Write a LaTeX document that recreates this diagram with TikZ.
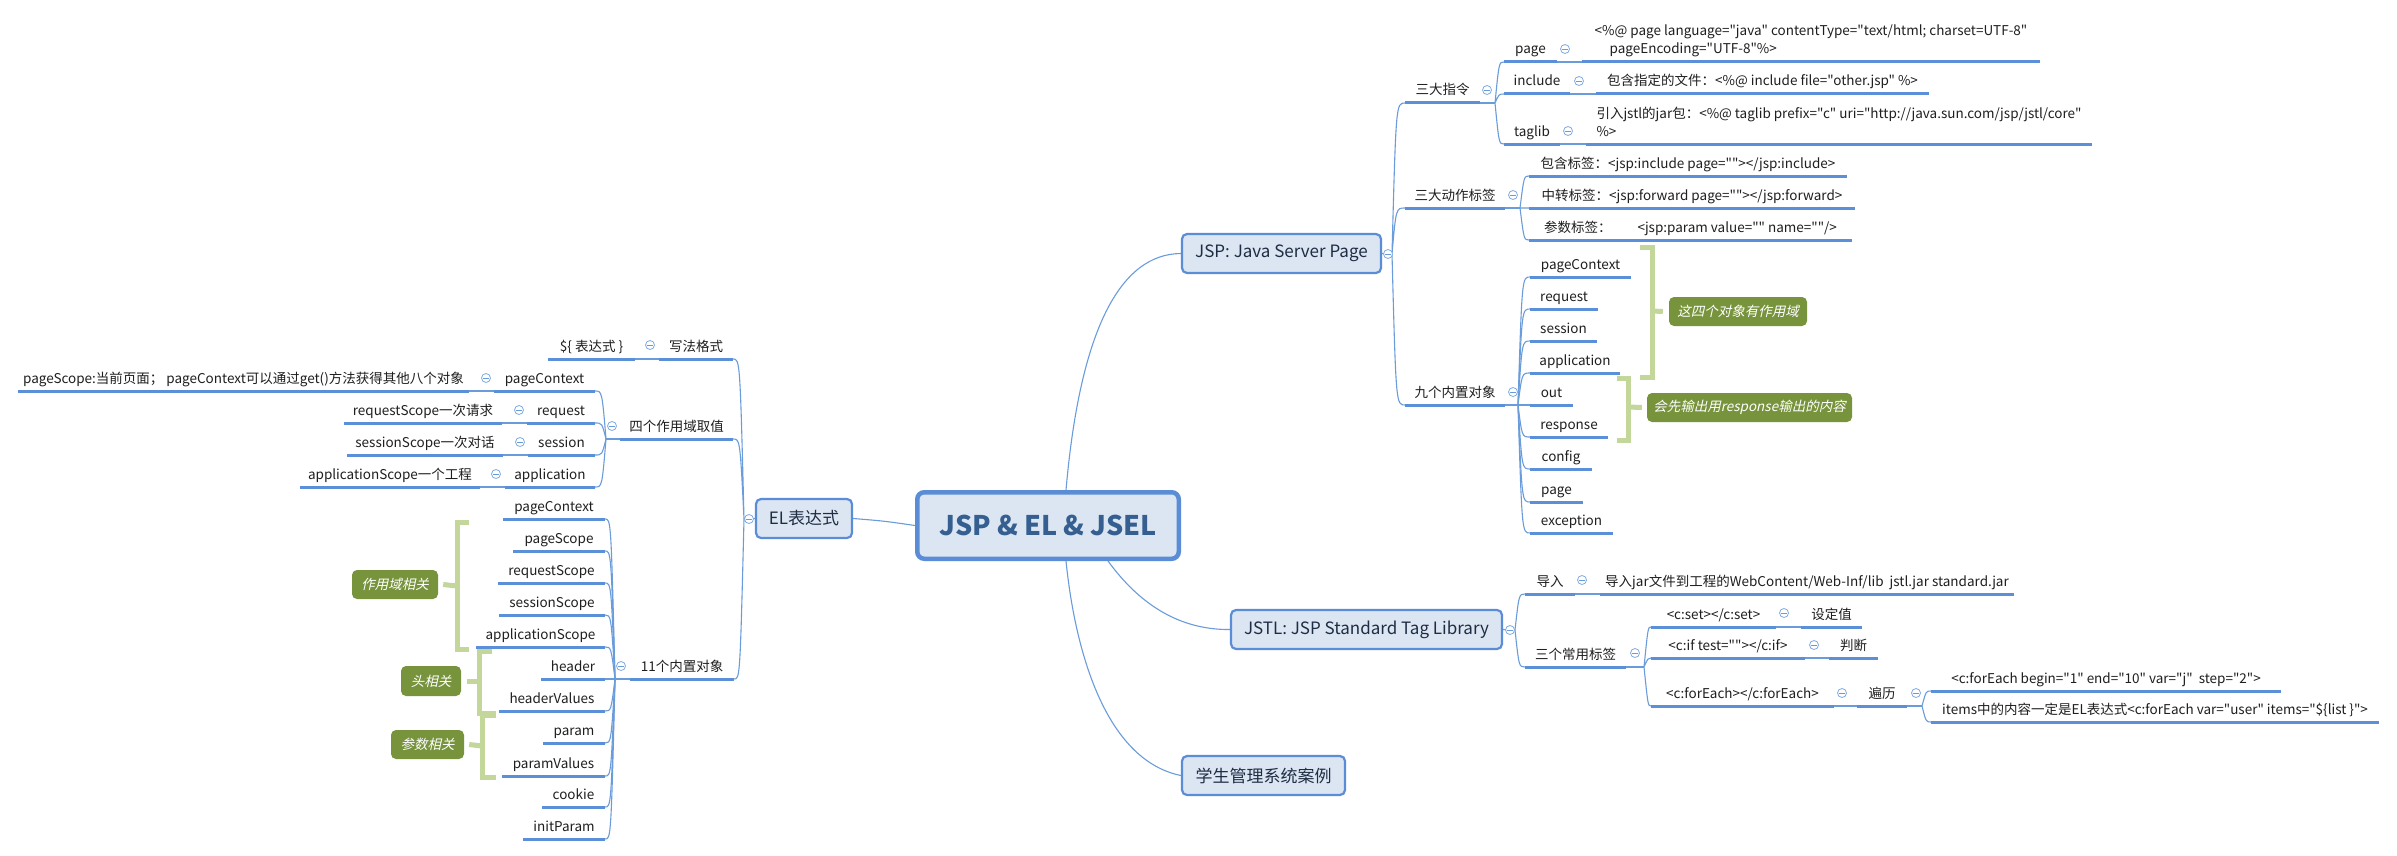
\documentclass[tikz,border=0pt]{standalone}
\usepackage{fontspec}
\setmainfont{Noto Sans CJK SC}[Ligatures=TeXOff]
\newfontfamily\itfont[FakeSlant=0.22]{Noto Sans CJK SC}
\usetikzlibrary{calc}
\pgfdeclarelayer{bg}
\pgfsetlayers{bg,main}
\definecolor{ul}{HTML}{5B8FD8}
\definecolor{cn}{HTML}{6A9CDB}
\definecolor{nodefill}{HTML}{DCE6F2}
\definecolor{nodeborder}{HTML}{5A8DD6}
\definecolor{brk}{HTML}{C4D79B}
\definecolor{lab}{HTML}{77933C}
\definecolor{rootTxt}{HTML}{365F91}
\definecolor{lonetxt}{HTML}{1F2D44}
\newcommand\st{\rule[-3.5pt]{0pt}{10.5pt}}
\newcommand\tpR[5][]{\node[topic,anchor=south west,minimum width=#4,#1] (#2) at (#3) {#5};\draw[uline] (#2.south west) -- (#2.south east);}
\newcommand\tpL[5][]{\node[topic,anchor=south east,minimum width=#4,#1] (#2) at (#3) {#5};\draw[uline] (#2.south west) -- (#2.south east);}
\tikzset{
 topic/.style={inner xsep=0pt, inner ysep=4.5pt, outer sep=0pt, minimum height=0pt, font=\fontsize{13.5}{18}\selectfont, text=black!88, execute at begin node=\st, execute at end node=\st},
 uline/.style={draw=ul, line width=3pt},
 conn/.style={draw=cn, line width=1.1pt},
 brR/.style={to path={.. controls ([xshift=4pt]\tikztostart |- \tikztotarget) .. (\tikztotarget)}},
 brL/.style={to path={.. controls ([xshift=-4pt]\tikztostart |- \tikztotarget) .. (\tikztotarget)}},
 clp/.style={circle, draw=cn!85, line width=0.8pt, fill=white, minimum size=9pt, inner sep=0pt, outer sep=0pt,
   path picture={\draw[cn, line width=0.8pt] ([xshift=-2.6pt]path picture bounding box.center) -- ([xshift=2.6pt]path picture bounding box.center);}},
 lvone/.style={draw=nodeborder, line width=2.2pt, fill=nodefill, rounded corners=5pt, inner sep=0pt, font=\fontsize{17}{20}\selectfont, text=lonetxt},
 rootnode/.style={draw=nodeborder, line width=4.5pt, fill=nodefill, rounded corners=7pt, inner sep=0pt, font=\fontsize{27}{30}\selectfont\bfseries, text=rootTxt},
 brkt/.style={draw=brk, line width=5pt},
 note/.style={fill=lab, rounded corners=5pt, inner sep=0pt, text=white, font=\fontsize{13.5}{16}\selectfont\itfont},
}
\begin{document}
\begin{tikzpicture}[x=1pt,y=-1pt]
\useasboundingbox (0,0) rectangle (2397,856);
% ---------- main nodes
\node[rootnode, minimum width=261.5, minimum height=66.5] (root) at (1048,525.5) {JSP \& EL \& JSEL};
\node[lvone, minimum width=96, minimum height=39] (el) at (804,518.5) {EL表达式};
\node[lvone, minimum width=199, minimum height=39] (jsp) at (1281.5,253.5) {JSP: Java Server Page};
\node[lvone, minimum width=271, minimum height=39] (jstl) at (1366.5,629.5) {JSTL: JSP Standard Tag Library};
\node[lvone, minimum width=163, minimum height=39] (case) at (1263.5,775.5) {学生管理系统案例};

% ---------- JSP branch
\tpR{zd}{1405,103}{75}{三大指令}
\tpR{dz}{1405,208}{100}{三大动作标签}
\tpR{nz}{1405,405}{100}{九个内置对象}
\tpR{pg}{1504,62}{53}{page}
\tpR{inc}{1504,94}{66}{include}
\tpR{tl}{1504,144}{56}{taglib}
\tpR{pgc}{1582,62}{458}{\vbox{\baselineskip=18pt\hbox{<\%@ page language="java" contentType="text/html; charset=UTF-8"\st}\hbox{\hspace*{15pt}pageEncoding="UTF-8"\%>\st}}}
\tpR{incc}{1596,94}{333}{包含指定的文件：<\%@ include file="other.jsp" \%>}
\tpR{tlc}{1586,144}{506}{\vbox{\baselineskip=18pt\hbox{引入jstl的jar包：<\%@ taglib prefix="c" uri="http://java.sun.com/jsp/jstl/core"\st}\hbox{\%>\st}}}
\tpR{dza}{1529,176}{318}{包含标签：<jsp:include page=""></jsp:include>}
\tpR{dzb}{1529,208}{326}{中转标签：<jsp:forward page=""></jsp:forward>}
\tpR{dzc}{1529,240}{323}{参数标签：\hspace{26pt}<jsp:param value="" name=""/>}
\tpR{na}{1530,277}{101}{pageContext}
\tpR{nb}{1530,309}{68}{request}
\tpR{nc}{1530,341}{67}{session}
\tpR{nd}{1530,373}{90}{application}
\tpR{ne}{1530,405}{43}{out}
\tpR{nf}{1530,437}{78}{response}
\tpR{ng}{1530,469}{62}{config}
\tpR{nh}{1530,502}{53}{page}
\tpR{ni}{1530,533}{83}{exception}

% ---------- EL branch
\tpL{xf}{733,359}{74}{写法格式}
\tpL{expr}{635,359}{87}{\$\{ 表达式 \}}
\tpL{sz}{733,439}{113}{四个作用域取值}
\tpL{pc}{595,391}{101}{pageContext}
\tpL{rq}{595,423}{68}{request}
\tpL{ss}{595,455}{67}{session}
\tpL{ap}{595,487}{90}{application}
\tpL{pcc}{469,391}{451}{pageScope:当前页面； pageContext可以通过get()方法获得其他八个对象}
\tpL{rqc}{502,423}{158}{requestScope一次请求}
\tpL{ssc}{503,455}{156}{sessionScope一次对话}
\tpL{apc}{480,487}{180}{applicationScope一个工程}
\tpL{sy}{734,679}{104}{11个内置对象}
\tpL{sa}{605,519}{102}{pageContext}
\tpL{sb}{605,551}{92}{pageScope}
\tpL{sc}{605,583}{107}{requestScope}
\tpL{sd}{605,615}{106}{sessionScope}
\tpL{se}{605,647}{129}{applicationScope}
\tpL{sf}{605,679}{64}{header}
\tpL{sg}{605,711}{106}{headerValues}
\tpL{sh}{605,743}{62}{param}
\tpL{si}{605,776}{103}{paramValues}
\tpL{sj}{605,807}{63}{cookie}
\tpL{sk}{605,839}{82}{initParam}

% ---------- JSTL branch
\tpR{dr}{1525,594}{50}{导入}
\tpR{drc}{1600,594}{414}{导入jar文件到工程的WebContent/Web-Inf/lib\ \ jstl.jar standard.jar}
\tpR{cy}{1525,667}{101}{三个常用标签}
\tpR{cset}{1651,627}{125}{<c:set></c:set>}
\tpR{sdz}{1801,627}{61}{设定值}
\tpR{cif}{1651,658}{154}{<c:if test=""></c:if>}
\tpR{pd}{1829,658}{49}{判断}
\tpR{cfe}{1651,706}{183}{<c:forEach></c:forEach>}
\tpR{bl}{1857,706}{50}{遍历}
\tpR{fea}{1931,691}{350}{<c:forEach begin="1" end="10" var="j"\ \ step="2">}
\tpR{feb}{1931,722}{448}{items中的内容一定是EL表达式<c:forEach var="user" items="\$\{list \}">}

% ---------- notes
\node[note, minimum width=138, minimum height=29] (nt1) at (1738,311.5) {这四个对象有作用域};
\node[note, minimum width=205, minimum height=29] (nt2) at (1749.5,407.5) {会先输出用response输出的内容};
\node[note, minimum width=86, minimum height=29] (nt3) at (395,584.5) {作用域相关};
\node[note, minimum width=60, minimum height=30] (nt4) at (431,681) {头相关};
\node[note, minimum width=73, minimum height=29] (nt5) at (427.5,744.5) {参数相关};

% ---------- brackets
\draw[brkt] (1640,247) -- (1652,247) -- (1652,377) -- (1640,377);
\draw[brkt] (1652,311) -- ([xshift=-6pt]nt1.west);
\draw[brkt] (1617,378) -- (1628,378) -- (1628,440) -- (1617,440);
\draw[brkt] (1628,407) -- ([xshift=-5pt]nt2.west);
\draw[brkt] (469,522) -- (457,522) -- (457,649) -- (469,649);
\draw[brkt] (457,586) -- ([xshift=5pt]nt3.east);
\draw[brkt] (492,651) -- (479,651) -- (479,713) -- (496,713);
\draw[brkt] (479,681) -- ([xshift=6pt]nt4.east);
\draw[brkt] (496,715) -- (482,715) -- (482,777) -- (496,777);
\draw[brkt] (482,746) -- ([xshift=5pt]nt5.east);

% ---------- connectors
\coordinate (b-el) at (744,519);
\coordinate (b-jsp) at (1392,254);
\coordinate (b-jstl) at (1515,630);
\coordinate (b-zd) at (1495,103);
\coordinate (b-dz) at (1520,208);
\coordinate (b-nz) at (1518,405);
\coordinate (b-sz) at (606,439);
\coordinate (b-sy) at (615,679);
\coordinate (b-cy) at (1644,667);
\coordinate (b-bl) at (1922,706);
\begin{pgfonlayer}{bg}
\fill[white] (0,0) rectangle (2397,856);
\draw[conn] (root.west) .. controls (884,521) .. (el.east);
\draw[conn] ([xshift=18pt]root.north) .. controls (1080,330) and (1120,254) .. (jsp.west);
\draw[conn] ([xshift=60pt]root.south) .. controls (1140,605) and (1180,630) .. (jstl.west);
\draw[conn] ([xshift=18pt]root.south) .. controls (1075,650) and (1105,760) .. (case.west);
% JSP
\draw[conn] (jsp.east) -- (b-jsp);
\draw[conn] (b-jsp) to[brR] (zd.south west) (b-jsp) to[brR] (dz.south west) (b-jsp) to[brR] (nz.south west);
\draw[conn] (zd.south east) -- (b-zd);
\draw[conn] (b-zd) to[brR] (pg.south west) (b-zd) to[brR] (inc.south west) (b-zd) to[brR] (tl.south west);
\draw[conn] (pg.south east) -- (pgc.south west);
\draw[conn] (inc.south east) -- (incc.south west);
\draw[conn] (tl.south east) -- (tlc.south west);
\draw[conn] (dz.south east) -- (b-dz);
\draw[conn] (b-dz) to[brR] (dza.south west) (b-dz) to[brR] (dzb.south west) (b-dz) to[brR] (dzc.south west);
\draw[conn] (nz.south east) -- (b-nz);
\foreach \n in {na,nb,nc,nd,ne,nf,ng,nh,ni} {\draw[conn] (b-nz) to[brR] (\n.south west);}
% EL
\draw[conn] (el.west) -- (b-el);
\draw[conn] (b-el) to[brL] (xf.south east) (b-el) to[brL] (sz.south east) (b-el) to[brL] (sy.south east);
\draw[conn] (xf.south west) -- (expr.south east);
\draw[conn] (sz.south west) -- (b-sz);
\foreach \n in {pc,rq,ss,ap} {\draw[conn] (b-sz) to[brL] (\n.south east);}
\draw[conn] (pc.south west) -- (pcc.south east);
\draw[conn] (rq.south west) -- (rqc.south east);
\draw[conn] (ss.south west) -- (ssc.south east);
\draw[conn] (ap.south west) -- (apc.south east);
\draw[conn] (sy.south west) -- (b-sy);
\foreach \n in {sa,sb,sc,sd,se,sf,sg,sh,si,sj,sk} {\draw[conn] (b-sy) to[brL] (\n.south east);}
% JSTL
\draw[conn] (jstl.east) -- (b-jstl);
\draw[conn] (b-jstl) to[brR] (dr.south west) (b-jstl) to[brR] (cy.south west);
\draw[conn] (dr.south east) -- (drc.south west);
\draw[conn] (cy.south east) -- (b-cy);
\draw[conn] (b-cy) to[brR] (cset.south west) (b-cy) to[brR] (cif.south west) (b-cy) to[brR] (cfe.south west);
\draw[conn] (cset.south east) -- (sdz.south west);
\draw[conn] (cif.south east) -- (pd.south west);
\draw[conn] (cfe.south east) -- (bl.south west);
\draw[conn] (bl.south east) -- (b-bl);
\draw[conn] (b-bl) to[brR] (fea.south west) (b-bl) to[brR] (feb.south west);
\end{pgfonlayer}

% ---------- collapse markers
\node[clp] (c-el) at (749,519) {};
\node[clp] (c-jsp) at (1388,254) {};
\node[clp] (c-jstl) at (1510,630) {};
\node[clp] (c-zd) at (1487,90) {};
\node[clp] (c-dz) at (1513,195) {};
\node[clp] (c-nz) at (1513,392) {};
\node[clp] (c-pg) at (1565,49) {};
\node[clp] (c-inc) at (1579,81) {};
\node[clp] (c-tl) at (1568,131) {};
\node[clp] (c-xf) at (650,345) {};
\node[clp] (c-sz) at (612,426) {};
\node[clp] (c-pc) at (486,378) {};
\node[clp] (c-rq) at (519,410) {};
\node[clp] (c-ss) at (520,442) {};
\node[clp] (c-ap) at (496,474) {};
\node[clp] (c-sy) at (621,666) {};
\node[clp] (c-dr) at (1582,580) {};
\node[clp] (c-cy) at (1635,653) {};
\node[clp] (c-cset) at (1784,613) {};
\node[clp] (c-cif) at (1814,645) {};
\node[clp] (c-cfe) at (1842,693) {};
\node[clp] (c-bl) at (1916,693) {};
\end{tikzpicture}
\end{document}
